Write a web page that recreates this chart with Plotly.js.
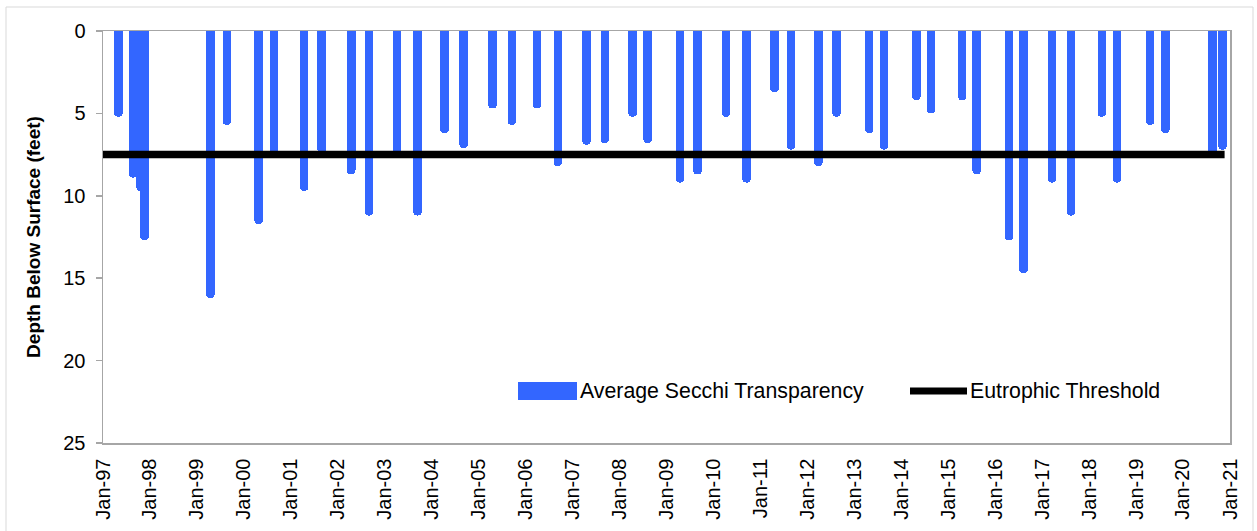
<!DOCTYPE html>
<html>
<head>
<meta charset="utf-8">
<script src="https://cdn.plot.ly/plotly-3.0.1.min.js"></script>
<style>html,body{margin:0;padding:0;background:#fff}#chart{width:1257px;height:531px}</style>
</head>
<body>
<div id="chart"></div>
<script>
// Sampling dates of the Secchi readings
const sampleDates = [
  '1997-05-01','1997-08-23','1997-10-20','1997-11-20',
  '1999-04-17','1999-08-23',
  '2000-04-25','2000-08-22',
  '2001-04-15','2001-08-28',
  '2002-04-16','2002-08-31',
  '2003-04-08','2003-09-13',
  '2004-04-10','2004-09-06',
  '2005-04-19','2005-09-16',
  '2006-04-01','2006-09-09',
  '2007-04-20','2007-09-09',
  '2008-04-12','2008-08-07',
  '2009-04-17','2009-08-30',
  '2010-04-09','2010-09-16',
  '2011-04-21','2011-08-28',
  '2012-03-28','2012-08-15',
  '2013-04-27','2013-08-21',
  '2014-04-29','2014-08-19',
  '2015-04-20','2015-08-11',
  '2016-04-17','2016-08-09',
  '2017-03-20','2017-08-15',
  '2018-04-10','2018-08-07',
  '2019-04-20','2019-08-18',
  '2020-08-18','2020-11-04'
];
// Average Secchi transparency (feet below surface)
const secchiDepth = [
  5.2, 8.9, 9.7, 12.7,
  16.2, 5.7,
  11.7, 7.4,
  9.7, 7.4,
  8.7, 11.2,
  7.4, 11.2,
  6.2, 7.1,
  4.7, 5.7,
  4.7, 8.2,
  6.9, 6.8,
  5.2, 6.8,
  9.2, 8.7,
  5.2, 9.2,
  3.7, 7.2,
  8.2, 5.2,
  6.2, 7.2,
  4.2, 5.0,
  4.2, 8.7,
  12.7, 14.7,
  9.2, 11.2,
  5.2, 9.2,
  5.7, 6.2,
  7.5, 7.2
];
// Eutrophic threshold line
const thresholdDates = ['1997-01-01', '2020-11-20'];
const thresholdDepth = [7.5, 7.5];

const seriesNames = ['Average Secchi Transparency', 'Eutrophic Threshold'];
const yTickValues = [0, 5, 10, 15, 20, 25];
const xRange = ['1997-01-01', '2021-01-01'];

const BLUE = '#3366FF';
const FONT = 'Liberation Sans, Arial, sans-serif';
const BAR_MS = 66 * 24 * 3600 * 1000;

// paper-coordinate helpers for the hand-drawn legend
const L = 103, R = 1230, T = 31, B = 443;
const px = v => (v - L) / (R - L);
const py = v => (B - v) / (B - T);

const traces = [
  {
    type: 'bar',
    x: sampleDates,
    y: secchiDepth,
    width: BAR_MS,
    marker: {color: BLUE, cornerradius: 4, line: {width: 0}},
    name: seriesNames[0],
    showlegend: false,
    hoverinfo: 'x+y'
  },
  {
    type: 'scatter',
    mode: 'lines',
    x: thresholdDates,
    y: thresholdDepth,
    line: {color: '#000000', width: 7.5},
    name: seriesNames[1],
    showlegend: false
  }
];

const layout = {
  width: 1257,
  height: 531,
  margin: {l: L, r: 1257 - R, t: T, b: 531 - B, pad: 0},
  paper_bgcolor: '#ffffff',
  plot_bgcolor: '#ffffff',
  showlegend: false,
  bargap: 0,
  font: {family: FONT, color: '#000000', size: 20},
  xaxis: {
    type: 'date',
    range: xRange,
    tick0: '1997-01-01',
    dtick: 'M12',
    tickformat: '%b-%y',
    tickangle: -90,
    tickfont: {family: FONT, size: 20, color: '#000000'},
    ticks: '',
    showgrid: false,
    zeroline: false,
    showline: true,
    linecolor: '#a6a6a6',
    linewidth: 1.5,
    mirror: true,
    ticklabelstandoff: 6,
    fixedrange: true
  },
  yaxis: {
    range: [25, 0],
    tickvals: yTickValues,
    ticktext: yTickValues.map(String),
    tickfont: {family: FONT, size: 20, color: '#000000'},
    ticks: 'outside',
    ticklen: 6,
    tickcolor: '#a6a6a6',
    tickwidth: 1.5,
    showgrid: false,
    zeroline: false,
    showline: true,
    linecolor: '#a6a6a6',
    linewidth: 1.5,
    mirror: true,
    ticklabelstandoff: 6,
    title: {
      text: 'Depth Below Surface (feet)',
      font: {family: FONT, size: 19, color: '#000000', weight: 'bold'},
      standoff: 17
    },
    fixedrange: true
  },
  shapes: [
    // outer chart border
    {type: 'rect', xref: 'paper', yref: 'paper',
     x0: px(6), x1: px(1253), y0: py(560), y1: py(7),
     line: {color: '#d9d9d9', width: 1}, fillcolor: 'rgba(0,0,0,0)', layer: 'below'},
    // legend swatches
    {type: 'rect', xref: 'paper', yref: 'paper',
     x0: px(518), x1: px(577), y0: py(400), y1: py(382),
     line: {width: 0}, fillcolor: BLUE},
    {type: 'line', xref: 'paper', yref: 'paper',
     x0: px(910), x1: px(967), y0: py(391), y1: py(391),
     line: {color: '#000000', width: 7}}
  ],
  annotations: [
    {xref: 'paper', yref: 'paper', x: px(578), y: py(391),
     xanchor: 'left', yanchor: 'middle', showarrow: false,
     text: seriesNames[0], font: {family: FONT, size: 21.3, color: '#000000'}},
    {xref: 'paper', yref: 'paper', x: px(968), y: py(391),
     xanchor: 'left', yanchor: 'middle', showarrow: false,
     text: seriesNames[1], font: {family: FONT, size: 21.3, color: '#000000'}}
  ]
};

Plotly.newPlot('chart', traces, layout, {displayModeBar: false, staticPlot: true});
</script>
</body>
</html>
